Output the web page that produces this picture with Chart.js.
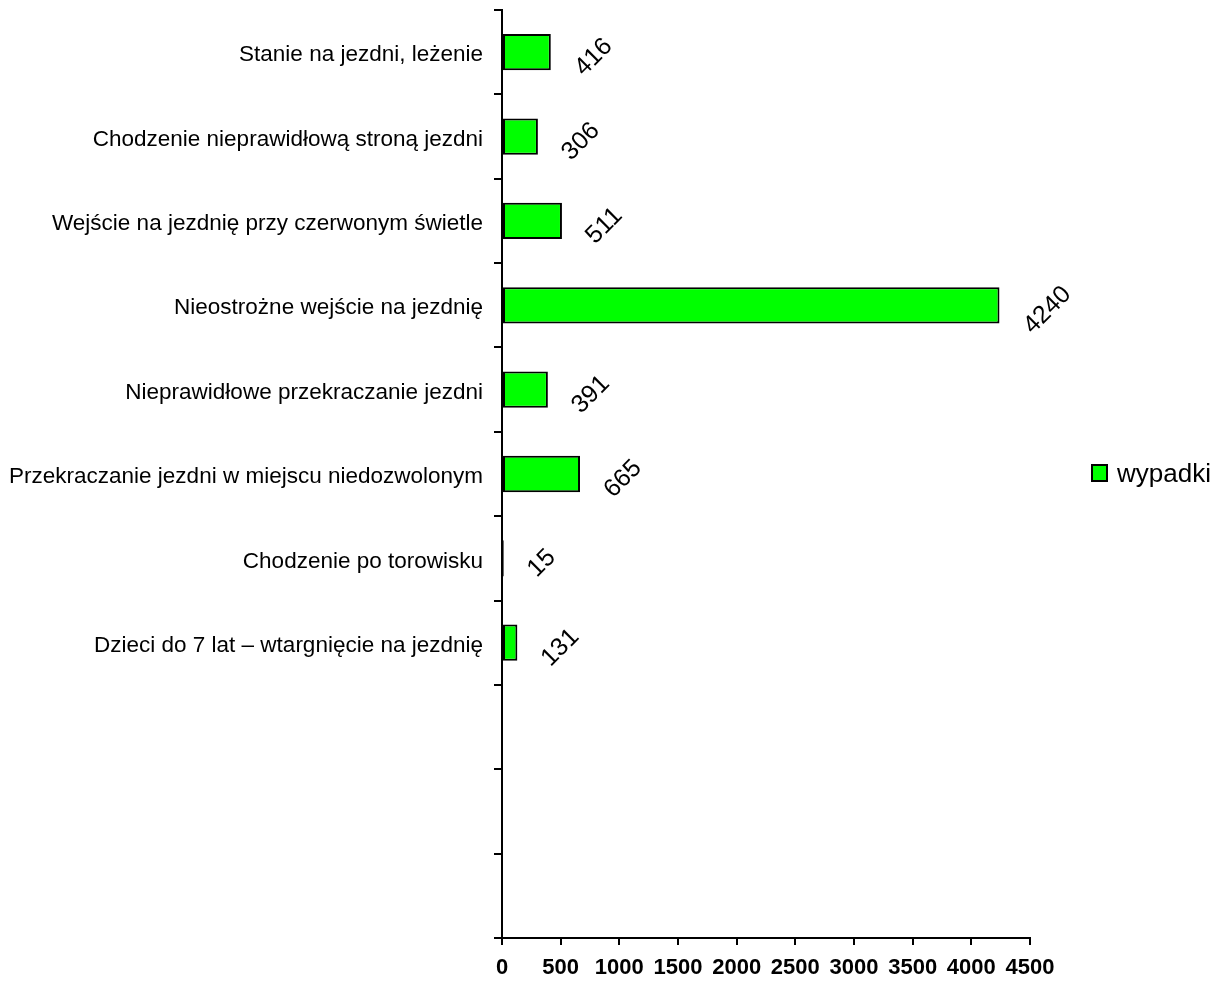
<!DOCTYPE html>
<html>
<head>
<meta charset="utf-8">
<script src="https://cdn.jsdelivr.net/npm/chart.js@4.4.1/dist/chart.umd.min.js"></script>
<style>
  body { margin: 0; background: #fff; }
  #wrap { width: 1224px; height: 981px; }
</style>
</head>
<body>
<div id="wrap"><canvas id="accChart" width="1224" height="981"></canvas></div>
<script>
// categories (last three rows are empty in the original)
var categories = [
  "Stanie na jezdni, leżenie",
  "Chodzenie nieprawidłową stroną jezdni",
  "Wejście na jezdnię przy czerwonym świetle",
  "Nieostrożne wejście na jezdnię",
  "Nieprawidłowe przekraczanie jezdni",
  "Przekraczanie jezdni w miejscu niedozwolonym",
  "Chodzenie po torowisku",
  "Dzieci do 7 lat – wtargnięcie na jezdnię",
  "", "", ""
];
var wypadki = [416, 306, 511, 4240, 391, 665, 15, 131, null, null, null];
var seriesName = "wypadki";
var xTicks = [0, 500, 1000, 1500, 2000, 2500, 3000, 3500, 4000, 4500];

var FONT = "Arial, 'Liberation Sans', sans-serif";

// rotated value labels next to bar ends
var valueLabels = {
  id: "valueLabels",
  afterDatasetsDraw: function (chart) {
    var ctx = chart.ctx;
    var meta = chart.getDatasetMeta(0);
    ctx.save();
    ctx.font = "25px " + FONT;
    ctx.fillStyle = "#000";
    ctx.textAlign = "center";
    ctx.textBaseline = "middle";
    meta.data.forEach(function (bar, i) {
      var v = wypadki[i];
      if (v === null) return;
      var txt = String(v);
      var w = ctx.measureText(txt).width;
      ctx.save();
      ctx.translate(bar.x + 28 + 0.36 * w, bar.y + 5);
      ctx.rotate(-Math.PI / 4);
      ctx.fillText(txt, 0, 0);
      ctx.restore();
    });
    ctx.restore();
  }
};

// simple legend on the right side
var sideLegend = {
  id: "sideLegend",
  afterDraw: function (chart) {
    var ctx = chart.ctx;
    var area = chart.chartArea;
    var ds = chart.data.datasets[0];
    var cy = (area.top + area.bottom) / 2;
    var bx = area.right + 62;
    ctx.save();
    ctx.fillStyle = ds.backgroundColor;
    ctx.fillRect(bx, cy - 9, 15, 16);
    ctx.strokeStyle = "#000";
    ctx.lineWidth = 2;
    ctx.strokeRect(bx, cy - 9, 15, 16);
    ctx.fillStyle = "#000";
    ctx.font = "26px " + FONT;
    ctx.textBaseline = "alphabetic";
    ctx.fillText(ds.label, bx + 25, cy + 8);
    ctx.restore();
  }
};

document.addEventListener("DOMContentLoaded", function () {
  var ctx = document.getElementById("accChart").getContext("2d");
  var chart = new Chart(ctx, {
    type: "bar",
    data: {
      labels: categories,
      datasets: [
        {
          label: seriesName,
          data: wypadki,
          backgroundColor: "#00ff00",
          borderColor: "#000",
          borderWidth: 2,
          borderSkipped: false,
          barPercentage: 0.43,
          categoryPercentage: 1
        }
      ]
    },
    options: {
      indexAxis: "y",
      responsive: false,
      animation: false,
      layout: { padding: { top: 10, right: 194, left: 0, bottom: 0 } },
      plugins: {
        legend: { display: false },
        tooltip: { enabled: false }
      },
      scales: {
        x: {
          min: 0,
          max: 4500,
          afterBuildTicks: function (scale) {
            scale.ticks = xTicks.map(function (v) { return { value: v }; });
          },
          afterFit: function (scale) { scale.height = 43; },
          border: { display: true, color: "#000", width: 2 },
          grid: { drawOnChartArea: false, color: "#000", lineWidth: 2, tickLength: 7 },
          ticks: {
            color: "#000",
            padding: 10,
            maxRotation: 0,
            autoSkip: false,
            font: { family: FONT, size: 22, weight: "bold" },
            callback: function (v) { return String(v); }
          }
        },
        y: {
          afterFit: function (scale) {
            scale.width = 502;
            scale.paddingTop = 0;
            scale.paddingBottom = 0;
          },
          border: { display: true, color: "#000", width: 2 },
          grid: { drawOnChartArea: false, color: "#000", lineWidth: 2, tickLength: 8, offset: true },
          ticks: {
            color: "#000",
            padding: 11,
            labelOffset: 3,
            autoSkip: false,
            font: { family: FONT, size: 22.5 }
          }
        }
      }
    },
    plugins: [valueLabels, sideLegend]
  });
});
</script>
</body>
</html>
